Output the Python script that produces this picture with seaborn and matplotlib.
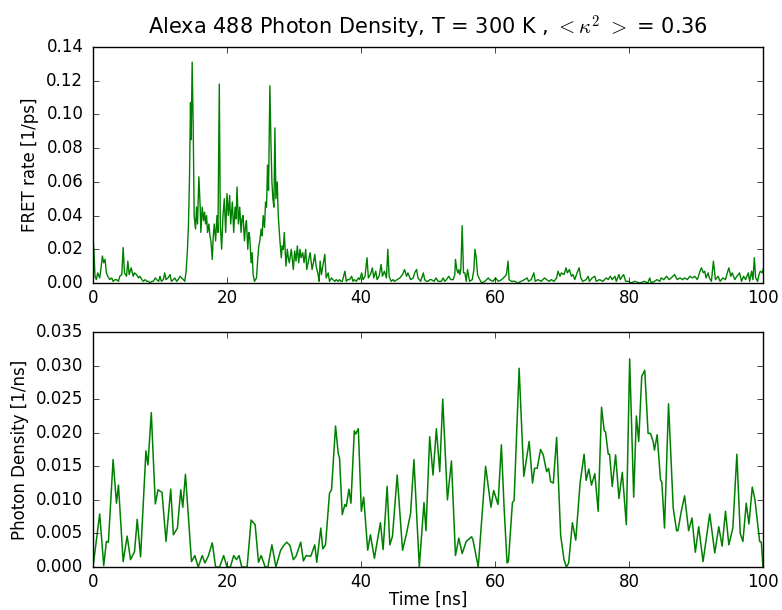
import numpy as np
import pandas as pd
import matplotlib
matplotlib.use("Agg")
import matplotlib.pyplot as plt
import seaborn as sns

# ---- data ----
fret_t = [0.0, 0.15, 0.3, 0.5, 0.7, 1.0, 1.2, 1.4, 1.6, 1.8, 2.0, 2.2, 2.5, 2.8, 3.0, 3.3, 3.5, 3.8,
          4.0, 4.3, 4.5, 4.7, 5.0, 5.2, 5.4, 5.7, 6.0, 6.2, 6.5, 6.8, 7.0, 7.3, 7.5, 7.8, 8.0, 8.3,
          8.5, 8.8, 9.0, 9.3, 9.5, 9.8, 10.0, 10.2, 10.5, 10.7, 10.9, 11.2, 11.5, 11.7, 12.0, 12.2,
          12.5, 12.7, 13.0, 13.2, 13.5, 13.7, 13.9,
          14.1, 14.25, 14.4, 14.55, 14.65, 14.8, 14.95, 15.1, 15.3, 15.45, 15.6, 15.8, 16.0, 16.1,
          16.3, 16.5, 16.65, 16.8, 16.95, 17.1, 17.3, 17.45, 17.6, 17.8, 17.95, 18.1, 18.3, 18.5,
          18.65, 18.85, 19.0, 19.2, 19.4, 19.6, 19.8, 20.0, 20.2, 20.4, 20.55, 20.8, 21.0, 21.2,
          21.35, 21.5, 21.7, 21.9, 22.1, 22.25, 22.4, 22.6, 22.75, 22.9, 23.1, 23.25, 23.4, 23.6,
          23.75, 23.9, 24.1, 24.25, 24.4, 24.6, 24.75, 24.9, 25.1, 25.25, 25.4, 25.6, 25.75, 25.9,
          26.05, 26.2, 26.4, 26.55, 26.7, 26.85, 27.0, 27.15, 27.3, 27.5, 27.65, 27.9, 28.1, 28.25,
          28.4, 28.55, 28.8, 29.0, 29.15, 29.3, 29.6, 29.9, 30.1, 30.3, 30.5, 30.7, 30.9, 31.05,
          31.3, 31.5, 31.75, 31.9, 32.1, 32.4, 32.7, 32.9, 33.1, 33.3, 33.6, 33.75, 33.9, 34.1,
          34.3, 34.6, 34.8, 35.1, 35.3, 35.6, 35.8, 36.1, 36.3, 36.6, 36.8, 37.0, 37.2, 37.6, 37.8,
          38.0, 38.3, 38.6, 38.8, 39.0, 39.3, 39.6, 39.8, 40.1, 40.3, 40.6, 40.9, 41.1, 41.4, 41.7,
          41.9, 42.2, 42.4, 42.7, 43.0, 43.2, 43.5, 43.8, 44.0, 44.2, 44.5, 44.8, 45.0, 45.4, 45.8,
          46.2, 46.5, 46.8, 47.0, 47.4, 47.8, 48.0, 48.3, 48.5, 48.9, 49.3, 49.5, 49.8, 50.0, 50.3,
          50.5, 50.9, 51.2, 51.5, 51.8, 52.0, 52.25, 52.5, 52.75, 53.1, 53.4, 53.75, 54.0, 54.1,
          54.3, 54.45, 54.6, 54.75, 54.9, 55.1, 55.3, 55.5, 55.7, 55.9, 56.2, 56.6, 56.85, 57.0,
          57.2, 57.4, 57.6, 58.0, 58.5, 59.0, 59.2, 59.7, 60.1, 60.5, 61.0, 61.5, 61.7, 61.95,
          62.1, 62.45, 62.95, 63.4, 63.9, 64.4, 64.8, 65.0, 65.4, 65.8, 66.0, 66.4, 66.9, 67.4,
          67.7, 68.1, 68.4, 68.8, 69.2, 69.4, 69.7, 69.9, 70.3, 70.6, 70.8, 71.1, 71.4, 71.65,
          71.9, 72.25, 72.55, 72.8, 73.1, 73.6, 73.9, 74.1, 74.5, 74.9, 75.1, 75.6, 76.1, 76.6,
          76.9, 77.2, 77.5, 77.9, 78.1, 78.5, 78.7, 79.0, 79.2, 79.5, 79.9, 80.35, 80.85, 81.6,
          82.3, 82.8, 83.1, 83.3, 83.8, 84.2, 84.6, 84.8, 85.2, 85.6, 86.0, 86.3, 86.8, 87.2,
          87.6, 88.0, 88.3, 88.7, 89.1, 89.5, 89.8, 90.2, 90.6, 90.8, 91.1, 91.3, 91.5, 91.8,
          92.0, 92.3, 92.6, 92.9, 93.3, 93.6, 94.0, 94.4, 94.6, 94.9, 95.2, 95.4, 95.8, 96.1,
          96.5, 96.8, 97.1, 97.4, 97.8, 98.0, 98.3, 98.5, 98.7, 98.9, 99.2, 99.4, 99.6, 99.9, 100.0]
fret_v = [0.027, 0.018, 0.004, 0.002, 0.006, 0.003, 0.009, 0.016, 0.012, 0.014, 0.006, 0.004, 0.002,
          0.003, 0.001, 0.002, 0.002, 0.001, 0.004, 0.005, 0.021, 0.006, 0.004, 0.013, 0.005, 0.009,
          0.004, 0.006, 0.005, 0.003, 0.004, 0.002, 0.001, 0.002, 0.001, 0.001, 0.000, 0.001, 0.001,
          0.003, 0.002, 0.001, 0.004, 0.001, 0.002, 0.006, 0.002, 0.003, 0.005, 0.001, 0.002, 0.003,
          0.001, 0.002, 0.004, 0.003, 0.002, 0.001, 0.007,
          0.020, 0.035, 0.062, 0.107, 0.085, 0.131, 0.095, 0.040, 0.032, 0.045, 0.035, 0.063, 0.045,
          0.030, 0.045, 0.037, 0.042, 0.035, 0.040, 0.030, 0.035, 0.028, 0.025, 0.014, 0.028, 0.035,
          0.025, 0.040, 0.030, 0.118, 0.035, 0.020, 0.040, 0.050, 0.030, 0.053, 0.040, 0.052, 0.035,
          0.048, 0.030, 0.045, 0.038, 0.057, 0.035, 0.045, 0.030, 0.038, 0.040, 0.025, 0.033, 0.037,
          0.020, 0.030, 0.027, 0.012, 0.018, 0.005, 0.001, 0.002, 0.003, 0.015, 0.022, 0.025, 0.032,
          0.028, 0.040, 0.033, 0.048, 0.045, 0.070, 0.055, 0.117, 0.085, 0.060, 0.050, 0.045, 0.092,
          0.050, 0.060, 0.040, 0.025, 0.015, 0.022, 0.020, 0.030, 0.010, 0.020, 0.015, 0.012, 0.020,
          0.008, 0.019, 0.013, 0.022, 0.012, 0.020, 0.015, 0.018, 0.012, 0.020, 0.008, 0.012, 0.018,
          0.008, 0.012, 0.017, 0.010, 0.005, 0.001, 0.013, 0.005, 0.010, 0.017, 0.003, 0.006, 0.001,
          0.003, 0.002, 0.001, 0.002, 0.001, 0.002, 0.001, 0.001, 0.007, 0.001, 0.002, 0.002, 0.004,
          0.001, 0.002, 0.001, 0.003, 0.002, 0.006, 0.002, 0.004, 0.015, 0.003, 0.005, 0.009, 0.003,
          0.007, 0.002, 0.004, 0.011, 0.004, 0.007, 0.003, 0.020, 0.004, 0.001, 0.002, 0.001, 0.002,
          0.003, 0.005, 0.008, 0.004, 0.006, 0.002, 0.003, 0.006, 0.008, 0.003, 0.001, 0.006, 0.002,
          0.001, 0.001, 0.002, 0.002, 0.001, 0.003, 0.001, 0.001, 0.001, 0.003, 0.001, 0.002, 0.004,
          0.002, 0.002, 0.005, 0.014, 0.008, 0.006, 0.008, 0.005, 0.008, 0.034, 0.006, 0.006, 0.001,
          0.008, 0.001, 0.002, 0.008, 0.020, 0.015, 0.005, 0.003, 0.000, 0.001, 0.003, 0.002, 0.001,
          0.003, 0.001, 0.002, 0.004, 0.005, 0.013, 0.002, 0.001, 0.001, 0.000, 0.001, 0.002, 0.003,
          0.001, 0.002, 0.006, 0.001, 0.002, 0.001, 0.003, 0.002, 0.001, 0.002, 0.001, 0.003, 0.007,
          0.004, 0.006, 0.005, 0.009, 0.006, 0.008, 0.004, 0.005, 0.002, 0.006, 0.009, 0.003, 0.001,
          0.002, 0.004, 0.001, 0.003, 0.004, 0.001, 0.002, 0.001, 0.003, 0.002, 0.004, 0.002, 0.004,
          0.001, 0.005, 0.002, 0.004, 0.005, 0.001, 0.001, 0.000, 0.001, 0.000, 0.001, 0.000, 0.003,
          0.000, 0.001, 0.002, 0.001, 0.003, 0.002, 0.004, 0.002, 0.003, 0.005, 0.002, 0.003, 0.002,
          0.003, 0.002, 0.004, 0.003, 0.004, 0.002, 0.007, 0.009, 0.006, 0.007, 0.003, 0.006, 0.003,
          0.001, 0.013, 0.002, 0.004, 0.001, 0.003, 0.002, 0.005, 0.009, 0.004, 0.006, 0.002, 0.004,
          0.006, 0.001, 0.004, 0.002, 0.006, 0.001, 0.007, 0.002, 0.015, 0.003, 0.001, 0.005, 0.007,
          0.006, 0.008]

dens_t = [0.0, 1.0, 1.6, 2.0, 2.3, 3.0, 3.5, 3.8, 4.5, 5.1, 5.6, 6.2, 6.6, 7.1, 7.9, 8.2, 8.7, 9.3,
          9.7, 10.3, 10.9, 11.6, 12.0, 12.6, 13.1, 13.4, 13.8, 14.7, 15.2, 15.7, 16.3, 16.7, 17.2,
          17.8, 18.3, 18.9, 19.5, 20.0, 20.5, 21.0, 21.4, 21.8, 22.2, 23.0, 23.6, 24.2, 24.7, 25.1,
          25.7, 26.1, 26.7, 27.3, 28.0, 28.4, 28.9, 29.4, 29.9, 30.3, 31.0, 31.4, 31.8, 32.5, 33.1,
          33.4, 34.0, 34.3, 34.7, 35.3, 35.6, 36.2, 36.6, 36.8, 37.2, 37.6, 37.8, 38.2, 38.5, 39.0,
          39.2, 39.6, 40.05, 40.4, 41.0, 41.4, 42.0, 42.9, 43.3, 43.9, 44.3, 44.7, 45.4, 46.2, 46.8,
          47.4, 47.9, 48.7, 49.4, 49.7, 50.25, 50.75, 51.25, 51.75, 52.2, 52.9, 53.5, 54.1, 54.6,
          55.1, 55.7, 56.5, 56.7, 57.5, 58.6, 59.4, 59.8, 60.45, 60.95, 61.35, 61.8, 62.0, 62.6,
          62.85, 63.6, 64.3, 65.1, 65.6, 65.9, 66.3, 66.8, 67.2, 67.7, 68.0, 68.3, 68.7, 69.2, 69.8,
          70.3, 70.65, 71.0, 71.55, 72.05, 72.7, 73.3, 73.6, 74.0, 74.4, 74.9, 75.4, 75.9, 76.3,
          76.5, 76.9, 77.1, 77.5, 78.0, 78.5, 79.0, 79.6, 80.1, 80.7, 81.1, 81.45, 81.9, 82.35,
          82.85, 83.2, 83.6, 83.8, 84.2, 84.7, 84.9, 85.3, 85.9, 86.6, 87.1, 87.3, 87.8, 88.3, 88.9,
          89.4, 89.9, 90.4, 91.05, 92.05, 92.8, 93.4, 93.9, 94.4, 94.9, 95.5, 96.1, 96.6, 97.0,
          97.5, 97.9, 98.4, 98.8, 99.5, 99.75, 100.0]
dens_v = [0.0, 0.0079, 0.0002, 0.0038, 0.0037, 0.0160, 0.0095, 0.0122, 0.0008, 0.0046, 0.0011,
          0.0023, 0.0071, 0.0015, 0.0173, 0.0152, 0.0230, 0.0094, 0.0115, 0.0111, 0.0038, 0.0116,
          0.0048, 0.0058, 0.0115, 0.0089, 0.0138, 0.0008, 0.0017, 0.0, 0.0017, 0.0006, 0.0016,
          0.0036, 0.0, 0.0, 0.0017, 0.0, 0.0, 0.0017, 0.0011, 0.0017, 0.0, 0.0, 0.0070, 0.0063,
          0.0007, 0.0017, 0.0, 0.0, 0.0033, 0.0, 0.0025, 0.0031, 0.0037, 0.0032, 0.0011, 0.0016,
          0.0037, 0.0009, 0.0017, 0.0016, 0.0033, 0.0007, 0.0058, 0.0027, 0.0033, 0.0110, 0.0115,
          0.0210, 0.0169, 0.0162, 0.0078, 0.0093, 0.0090, 0.0116, 0.0095, 0.0203, 0.0198, 0.0206,
          0.0083, 0.0104, 0.0025, 0.0048, 0.0013, 0.0066, 0.0026, 0.0120, 0.0033, 0.0046, 0.0137,
          0.0025, 0.0050, 0.0080, 0.0160, 0.0, 0.0096, 0.0054, 0.0194, 0.0137, 0.0206, 0.0142,
          0.0250, 0.0100, 0.0158, 0.0017, 0.0043, 0.0020, 0.0038, 0.0045, 0.0041, 0.0, 0.0150,
          0.0089, 0.0114, 0.0093, 0.0182, 0.0090, 0.0006, 0.0008, 0.0096, 0.0099, 0.0296, 0.0135,
          0.0187, 0.0125, 0.0147, 0.0147, 0.0175, 0.0167, 0.0142, 0.0147, 0.0127, 0.0125, 0.0193,
          0.0047, 0.0011, 0.0, 0.0006, 0.0066, 0.0040, 0.0125, 0.0168, 0.0129, 0.0146, 0.0122,
          0.0139, 0.0083, 0.0238, 0.0203, 0.0201, 0.0168, 0.0168, 0.0120, 0.0167, 0.0102, 0.0141,
          0.0063, 0.0310, 0.0104, 0.0225, 0.0187, 0.0284, 0.0293, 0.0199, 0.0199, 0.0187, 0.0174,
          0.0197, 0.0130, 0.0126, 0.0058, 0.0243, 0.0088, 0.0054, 0.0054, 0.0083, 0.0106, 0.0054,
          0.0073, 0.0022, 0.0060, 0.0008, 0.0079, 0.0021, 0.0060, 0.0031, 0.0083, 0.0033, 0.0058,
          0.0168, 0.0050, 0.0038, 0.0095, 0.0064, 0.0119, 0.0100, 0.0038, 0.0037, 0.0]

x_ticks = [0, 20, 40, 60, 80, 100]
fret_ticks = [0.00, 0.02, 0.04, 0.06, 0.08, 0.10, 0.12, 0.14]
dens_ticks = [0.000, 0.005, 0.010, 0.015, 0.020, 0.025, 0.030, 0.035]

fret_df = pd.DataFrame({"t": fret_t, "v": fret_v})
dens_df = pd.DataFrame({"t": dens_t, "v": dens_v})

# ---- style (classic matplotlib look) ----
plt.style.use("classic")
plt.rcParams.update({
    "figure.facecolor": "white",
    "savefig.facecolor": "white",
    "font.family": ["DejaVu Sans"],
    "font.size": 12,
})

W, H = 782, 610
fig = plt.figure(figsize=(W / 100, H / 100), dpi=100)
ax1 = fig.add_axes([93 / W, 1 - 283 / H, (763 - 93) / W, (283 - 47) / H])
ax2 = fig.add_axes([93 / W, 1 - 567 / H, (763 - 93) / W, (567 - 332) / H])

green = (0.0, 0.5, 0.0)
sns.lineplot(data=fret_df, x="t", y="v", ax=ax1, color=green, linewidth=1.0, sort=False)
sns.lineplot(data=dens_df, x="t", y="v", ax=ax2, color=green, linewidth=1.1, sort=False)

for ax in (ax1, ax2):
    ax.set_xlim(0, 100)
    ax.set_xticks(x_ticks)
    ax.tick_params(direction="in", top=True, right=True, labelsize=12)
    ax.tick_params(axis="y", pad=7)
    ax.tick_params(axis="x", pad=4)

ax1.set_ylim(0, 0.14)
ax1.set_yticks(fret_ticks)
ax1.set_yticklabels([f"{v:.2f}" for v in fret_ticks])
ax1.set_xlabel("")
ax1.set_ylabel("FRET rate [1/ps]", fontsize=12)
ax1.set_title(r"Alexa 488 Photon Density, T = 300 K , $<\kappa^2\ >$ = 0.36", fontsize=15, pad=9)

ax2.set_ylim(0, 0.035)
ax2.set_yticks(dens_ticks)
ax2.set_yticklabels([f"{v:.3f}" for v in dens_ticks])
ax2.set_xlabel("Time [ns]", fontsize=12, labelpad=0)
ax2.set_ylabel("Photon Density [1/ns]", fontsize=12)

fig.savefig("out.png", dpi=100)
